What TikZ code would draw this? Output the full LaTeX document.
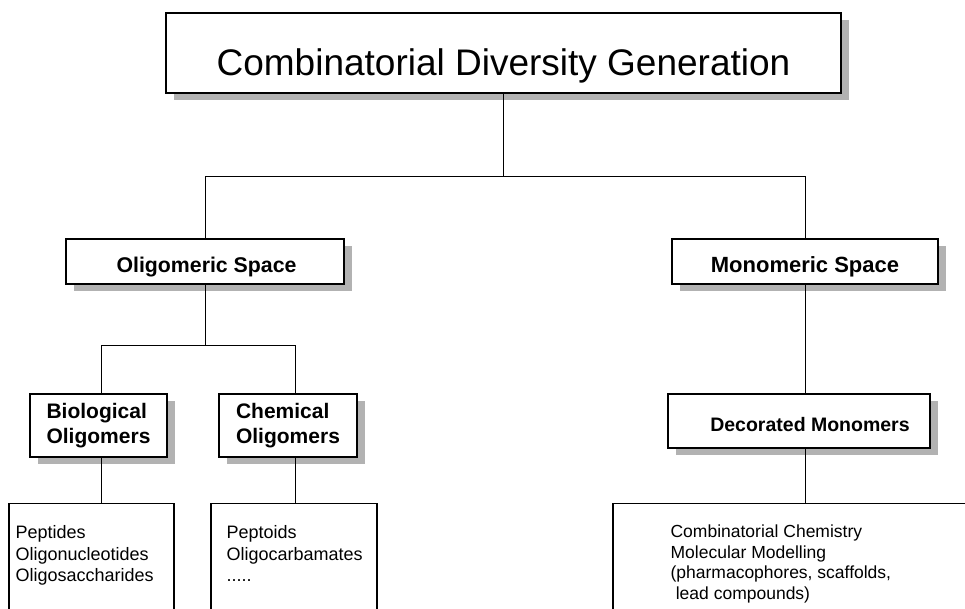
\documentclass[tikz,border=0pt]{standalone}
\usepackage{fontspec}
\setmainfont{Liberation Sans}
\usetikzlibrary{shadows}

\begin{document}
\begin{tikzpicture}[x=1pt,y=1pt,
    shadedbox/.style={draw, line width=1.2pt, fill=white, rectangle, inner sep=0pt,
      drop shadow={shadow xshift=8pt, shadow yshift=-7pt, fill=gray!60, opacity=1}},
    boxlabel/.style={font=\fontsize{21}{25}\selectfont\bfseries, align=left},
    listbox/.style={draw, line width=1.2pt, rectangle, anchor=north, minimum height=140pt},
    listtext/.style={font=\fontsize{18}{21.5}\selectfont, align=left, anchor=north west, inner sep=0pt},
    link/.style={draw, line width=0.9pt}]
    \useasboundingbox (0,0) rectangle (965,-608);
    \clip (0,0) rectangle (965,-608);
    \node[shadedbox, minimum width=675, minimum height=80, text height=44pt, text depth=0pt, font=\fontsize{37}{40}\selectfont] (cdg) at (503.5,-53) {Combinatorial Diversity Generation};
    \node[shadedbox, boxlabel, font=\fontsize{21.3}{25}\selectfont\bfseries, text height=21pt, text depth=0pt, minimum width=278, minimum height=45] (oligo) at (205,-261.5) {\hspace{3pt}Oligomeric Space};
    \node[shadedbox, boxlabel, font=\fontsize{22}{25}\selectfont\bfseries, text height=21pt, text depth=0pt, minimum width=266, minimum height=45] (mono) at (805,-261.5) {Monomeric Space};
    \node[shadedbox, boxlabel, minimum width=137, minimum height=63] (bio) at (98.5,-425.5) {Biological\\Oligomers};
    \node[shadedbox, boxlabel, minimum width=138, minimum height=63] (chem) at (288,-425.5) {Chemical\\Oligomers};
    \node[shadedbox, boxlabel, font=\fontsize{19.5}{25}\selectfont\bfseries, text height=20pt, text depth=0pt, minimum width=262, minimum height=54] (deco) at (799,-421) {\hspace{22pt}Decorated Monomers};
    \node[listbox, minimum width=165] (biolist) at (91.5,-503) {};
    \node[listbox, minimum width=166] (chemlist) at (294,-503) {};
    \node[listbox, minimum width=400] (monolist) at (813,-503) {};
    \node[listtext] (biotext) at ([xshift=7pt, yshift=-22.5pt]biolist.north west) {Peptides\\Oligonucleotides\\Oligosaccharides};
    \node[listtext] (chemtext) at ([xshift=16pt, yshift=-22.5pt]chemlist.north west) {Peptoids\\Oligocarbamates\\.....};
    \node[listtext, font=\fontsize{17.5}{20.5}\selectfont] (monotext) at ([xshift=58pt, yshift=-22pt]monolist.north west) {Combinatorial Chemistry\\Molecular Modelling\\(pharmacophores, scaffolds,\\\hspace{0.3em}lead compounds)};
    \coordinate (fork1) at ([yshift=-83pt]cdg.south);
    \coordinate (fork2) at ([yshift=-61pt]oligo.south);
    \draw[link] (cdg.south) -- (fork1);
    \draw[link] (oligo.north) |- (fork1) -| (mono.north);
    \draw[link] (oligo.south) -- (fork2);
    \draw[link] ([xshift=3pt]bio.north) |- (fork2) -| ([xshift=7pt]chem.north);
    \draw[link] ([xshift=3pt]bio.south) -- ([xshift=3pt]bio.south |- biolist.north);
    \draw[link] ([xshift=7pt]chem.south) -- ([xshift=7pt]chem.south |- chemlist.north);
    \draw[link] (mono.south) -- (mono.south |- deco.north);
    \draw[link] (mono.south |- deco.south) -- (mono.south |- monolist.north);
\end{tikzpicture}
\end{document}
